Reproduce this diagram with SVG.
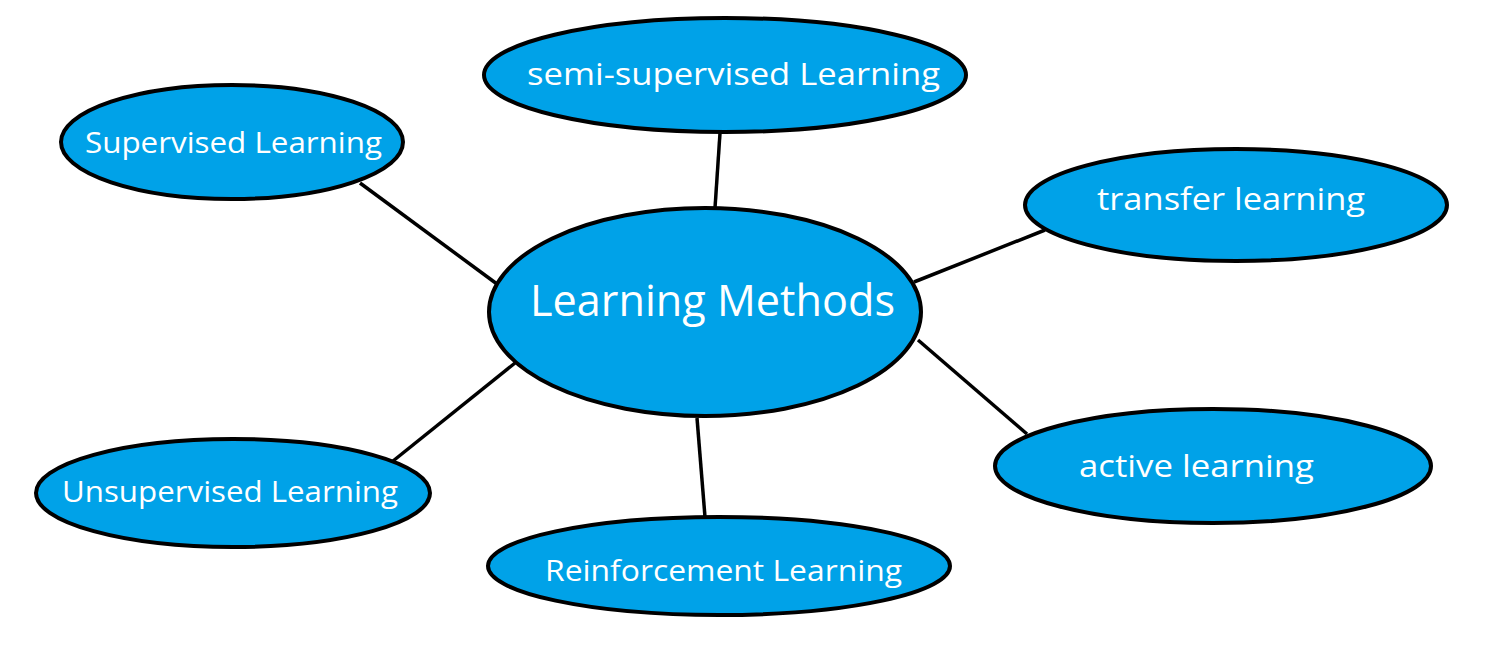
<svg xmlns="http://www.w3.org/2000/svg" width="1500" height="660" viewBox="0 0 1500 660">
<style>
.n{fill:#00A2E8;stroke:#000;stroke-width:4}
.t{fill:#fff;font-family:"Open Sans","Noto Sans",sans-serif;font-size:31px}
.c{stroke:#000;stroke-width:3.5;fill:none}
</style>
<rect width="1500" height="660" fill="#fff"/>
<g id="connectors">
<line class="c" x1="720" y1="133" x2="715" y2="208"/>
<line class="c" x1="360" y1="183" x2="497" y2="284"/>
<line class="c" x1="1045" y1="230" x2="914" y2="282"/>
<line class="c" x1="918" y1="340" x2="1027" y2="434"/>
<line class="c" x1="515" y1="363" x2="393" y2="461"/>
<line class="c" x1="697" y1="418" x2="705" y2="517"/>
</g>
<g id="center">
<ellipse class="n" cx="705" cy="312" rx="216" ry="104"/>
<text class="t" x="530" y="316" style="font-size:44px" textLength="365" lengthAdjust="spacingAndGlyphs">Learning Methods</text>
</g>
<g id="semi">
<ellipse class="n" cx="725" cy="75" rx="241" ry="57"/>
<text class="t" x="527" y="85" textLength="413" lengthAdjust="spacingAndGlyphs">semi-supervised Learning</text>
</g>
<g id="supervised">
<ellipse class="n" cx="232" cy="142" rx="171" ry="57"/>
<text class="t" x="85" y="153" style="font-size:29px" textLength="297" lengthAdjust="spacingAndGlyphs">Supervised Learning</text>
</g>
<g id="transfer">
<ellipse class="n" cx="1236" cy="205" rx="211" ry="56"/>
<text class="t" x="1097" y="210" textLength="268" lengthAdjust="spacingAndGlyphs">transfer learning</text>
</g>
<g id="active">
<ellipse class="n" cx="1213" cy="466" rx="218" ry="57"/>
<text class="t" x="1079" y="477" textLength="235" lengthAdjust="spacingAndGlyphs">active learning</text>
</g>
<g id="unsupervised">
<ellipse class="n" cx="233" cy="493" rx="197" ry="54"/>
<text class="t" x="62" y="502" style="font-size:30px" textLength="336" lengthAdjust="spacingAndGlyphs">Unsupervised Learning</text>
</g>
<g id="reinforcement">
<ellipse class="n" cx="719" cy="566" rx="231" ry="49"/>
<text class="t" x="545" y="581" style="font-size:29px" textLength="357" lengthAdjust="spacingAndGlyphs">Reinforcement Learning</text>
</g>
</svg>
